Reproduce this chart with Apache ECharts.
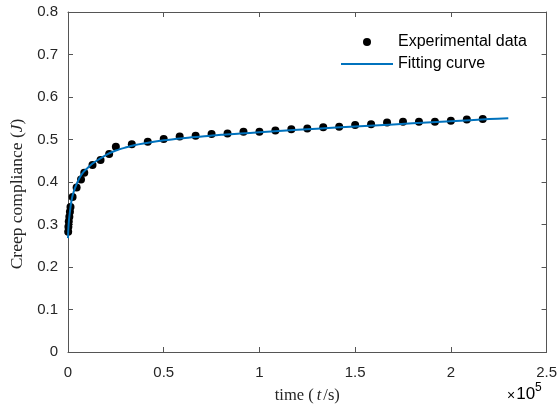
<!DOCTYPE html>
<html>
<head>
<meta charset="utf-8">
<script src="https://cdn.jsdelivr.net/npm/echarts@6/dist/echarts.min.js"></script>
<style>html,body{margin:0;padding:0;background:#fff}#c{width:560px;height:412px}</style>
</head>
<body>
<div id="c"></div>
<script>
// Experimental data: time (s) and creep compliance J
const expTime = [100, 200, 400, 700, 1000, 1300, 2400, 4500, 6800, 8500, 12800, 17000, 21500,
  25000, 33333, 41667, 50000, 58333, 66667, 75000, 83333, 91667, 100000, 108333, 116667,
  125000, 133333, 141667, 150000, 158333, 166667, 175000, 183333, 191667, 200000, 208333, 216667];
const expJ = [0.283, 0.295, 0.307, 0.318, 0.330, 0.341, 0.365, 0.387, 0.406, 0.422, 0.440, 0.452, 0.466,
  0.483, 0.489, 0.495, 0.501, 0.507, 0.509, 0.513, 0.514, 0.518, 0.518, 0.521, 0.524,
  0.526, 0.529, 0.530, 0.534, 0.536, 0.540, 0.542, 0.542, 0.542, 0.544, 0.547, 0.548];
// Fitting curve
const fitTime = [0, 200, 500, 1000, 1600, 2400, 3600, 5000, 6200, 8000, 10000, 13000, 16000, 20000,
  25000, 30000, 35000, 40000, 50000, 60000, 70000, 80000, 90000, 100000, 120000, 140000,
  160000, 180000, 200000, 220000, 230000];
const fitJ = [0.268, 0.290, 0.310, 0.330, 0.350, 0.368, 0.385, 0.400, 0.411, 0.423, 0.432, 0.444, 0.453, 0.464,
  0.474, 0.481, 0.487, 0.491, 0.498, 0.503, 0.507, 0.511, 0.514, 0.517, 0.523, 0.528,
  0.533, 0.538, 0.543, 0.548, 0.550];
const xTicks = [0, 0.5, 1, 1.5, 2, 2.5];
const yTicks = [0, 0.1, 0.2, 0.3, 0.4, 0.5, 0.6, 0.7, 0.8];

const chart = echarts.init(document.getElementById('c'));
const axisCol = '#555';
const labCol = '#262626';
const tickFont = {color: labCol, fontFamily: 'Liberation Sans, Arial', fontSize: 15};
const serif = 'Liberation Serif, Times New Roman';
const xScale = 1e5;

chart.setOption({
  animation: false,
  grid: {left: 68, right: 11, top: 12, bottom: 60, containLabel: false},
  legend: {
    orient: 'vertical', left: 340, top: 33, padding: 0, itemWidth: 52, itemHeight: 8, itemGap: 4,
    textStyle: {fontFamily: 'Liberation Sans, Arial', fontSize: 16, color: '#000', lineHeight: 18},
    data: [
      {name: 'Experimental data'},
      {name: 'Fitting curve', itemStyle: {color: 'rgba(0,0,0,0)', borderWidth: 0}}
    ]
  },
  xAxis: [{
    type: 'value', min: 0, max: 2.5 * xScale, interval: 0.5 * xScale,
    axisLine: {onZero: false, lineStyle: {color: axisCol, width: 1}},
    axisTick: {inside: true, length: 5, lineStyle: {color: axisCol}},
    splitLine: {show: false},
    axisLabel: Object.assign({margin: 13, formatter: v => {
      const t = v / xScale; return xTicks.find(x => Math.abs(x - t) < 1e-9) !== undefined ? String(+t.toFixed(1)) : '';
    }}, tickFont),
    name: '{n|time (}{i|t}{n|/s)}', nameLocation: 'middle', nameGap: 35,
    nameTextStyle: {rich: {
      n: {fontFamily: serif, fontSize: 16.5, color: labCol},
      i: {fontFamily: serif, fontSize: 16.5, fontStyle: 'italic', color: labCol, padding: [0, 2, 0, 3]}
    }}
  }, {
    type: 'value', position: 'top', min: 0, max: 2.5 * xScale, interval: 0.5 * xScale,
    axisLine: {show: true, onZero: false, lineStyle: {color: axisCol, width: 1}},
    axisTick: {inside: true, length: 5, lineStyle: {color: axisCol}},
    axisLabel: {show: false}, splitLine: {show: false}
  }],
  yAxis: [{
    type: 'value', min: 0, max: 0.8, interval: 0.1,
    axisLine: {show: true, onZero: false, lineStyle: {color: axisCol, width: 1}},
    axisTick: {show: true, inside: true, length: 5, lineStyle: {color: axisCol}},
    splitLine: {show: false},
    axisLabel: Object.assign({margin: 10, formatter: v => {
      const s = yTicks.find(y => Math.abs(y - v) < 1e-9); return s === undefined ? '' : String(s);
    }}, tickFont),
    name: '{n|Creep compliance (}{i|J}{n|)}', nameLocation: 'middle', nameGap: 39, nameRotate: 90,
    nameTextStyle: {padding: [0, 24, 0, 0], rich: {
      n: {fontFamily: serif, fontSize: 17.5, color: labCol},
      i: {fontFamily: serif, fontSize: 17.5, fontStyle: 'italic', color: labCol}
    }}
  }, {
    type: 'value', position: 'right', min: 0, max: 0.8, interval: 0.1,
    axisLine: {show: true, onZero: false, lineStyle: {color: axisCol, width: 1}},
    axisTick: {show: true, inside: true, length: 5, lineStyle: {color: axisCol}},
    axisLabel: {show: false}, splitLine: {show: false}
  }],
  graphic: [{
    type: 'text', left: 507, top: 382,
    style: {
      text: '{a|×}{b|10}{c|5}',
      rich: {
        a: {fontFamily: 'Liberation Sans, Arial', fontSize: 14, color: '#555', verticalAlign: 'bottom', padding: [0, 1, 0, 0]},
        b: {fontFamily: 'Liberation Sans, Arial', fontSize: 17, color: labCol, verticalAlign: 'bottom'},
        c: {fontFamily: 'Liberation Sans, Arial', fontSize: 12, color: labCol, verticalAlign: 'top', padding: [0, 0, 9, 0]}
      }
    }
  }],
  series: [{
    name: 'Experimental data', type: 'scatter', symbol: 'circle', symbolSize: 8,
    itemStyle: {color: '#000', opacity: 1}, z: 2,
    data: expTime.map((t, i) => [t, expJ[i]])
  }, {
    name: 'Fitting curve', type: 'line', showSymbol: false, symbol: 'none', smooth: 0.3,
    lineStyle: {color: '#0072BD', width: 2}, itemStyle: {color: '#0072BD'}, z: 3,
    data: fitTime.map((t, i) => [t, fitJ[i]])
  }]
});
</script>
</body>
</html>
